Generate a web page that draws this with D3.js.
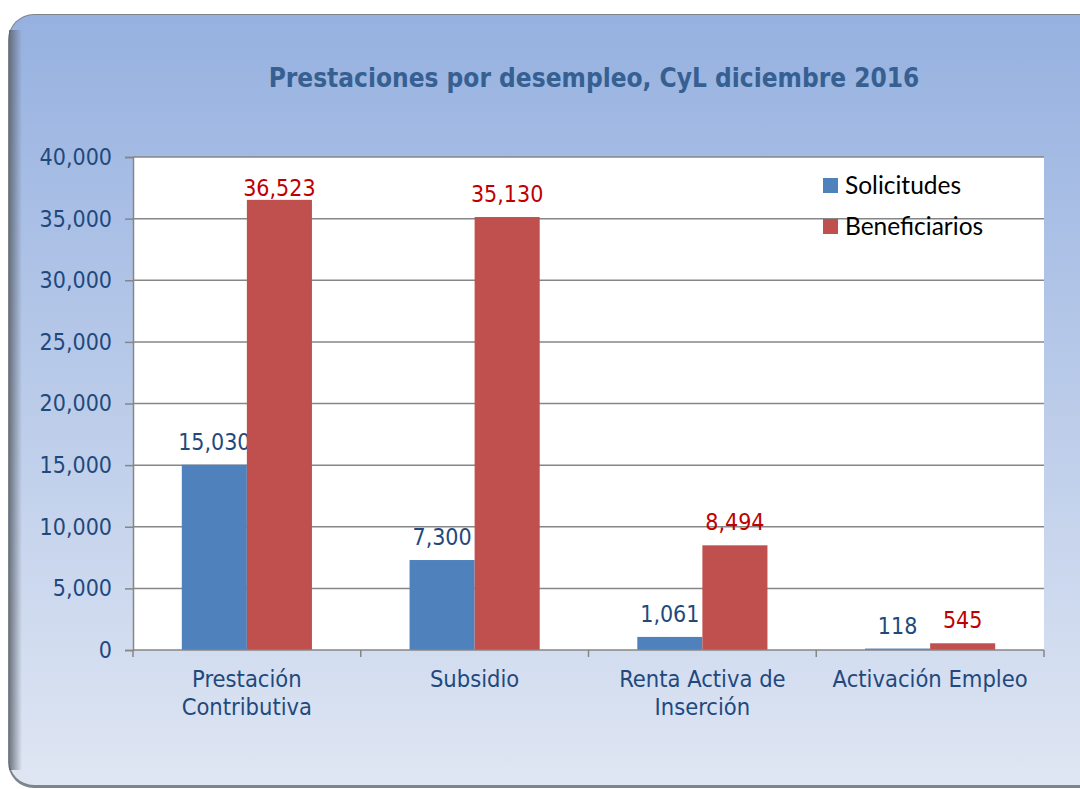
<!DOCTYPE html>
<html>
<head>
<meta charset="utf-8">
<script src="https://cdn.jsdelivr.net/npm/d3@7"></script>
<style>
  body { margin: 0; background: #fff; }
  svg { display: block; }
</style>
</head>
<body>
<svg id="svg" width="1080" height="789"></svg>
<script>
const categories = [['Prestación', 'Contributiva'], ['Subsidio'], ['Renta Activa de', 'Inserción'], ['Activación Empleo']];
const solicitudes = [15030, 7300, 1061, 118];
const beneficiarios = [36523, 35130, 8494, 545];
const seriesNames = ['Solicitudes', 'Beneficiarios'];
const yTicks = [0, 5000, 10000, 15000, 20000, 25000, 30000, 35000, 40000];

const barColors = ['#4f81bd', '#c0504d'];
const labelColors = ['#1f497d', '#c00000'];
const font = '"DejaVu Sans Condensed", "DejaVu Sans", sans-serif';

const svg = d3.select('#svg');
const defs = svg.append('defs');

const bg = defs.append('linearGradient').attr('id', 'bg').attr('x1', 0).attr('y1', 0).attr('x2', 0).attr('y2', 1);
bg.append('stop').attr('offset', '0%').attr('stop-color', '#96b1e0');
bg.append('stop').attr('offset', '100%').attr('stop-color', '#dfe6f3');

const shade = defs.append('linearGradient').attr('id', 'shade').attr('x1', 0).attr('y1', 0).attr('x2', 1).attr('y2', 0);
shade.append('stop').attr('offset', '0%').attr('stop-color', '#5a616b');
shade.append('stop').attr('offset', '100%').attr('stop-color', '#5a616b').attr('stop-opacity', 0);

// frame
svg.append('rect').attr('x', 8).attr('y', 14).attr('width', 1100).attr('height', 774)
  .attr('rx', 26).attr('fill', '#7d848e');
svg.append('rect').attr('x', 9).attr('y', 15).attr('width', 1100).attr('height', 770)
  .attr('rx', 25).attr('fill', 'url(#bg)');
svg.append('rect').attr('x', 9).attr('y', 30).attr('width', 13).attr('height', 740)
  .attr('fill', 'url(#shade)').attr('opacity', 0.85);

svg.append('text').attr('x', 594).attr('y', 87).attr('text-anchor', 'middle')
  .attr('font-family', font).attr('font-weight', 'bold').attr('font-size', 26)
  .attr('fill', '#376092').text('Prestaciones por desempleo, CyL diciembre 2016');

const margin = { left: 133, top: 157, right: 1044, bottom: 650 };

const x = d3.scaleBand().domain(d3.range(categories.length)).range([margin.left, margin.right]);
const y = d3.scaleLinear().domain([0, 40000]).range([margin.bottom, margin.top]);
const xs = d3.scaleBand().domain([0, 1]).range([0, x.bandwidth()]).paddingOuter(0.75).paddingInner(0);

svg.append('rect').attr('x', margin.left).attr('y', margin.top)
  .attr('width', margin.right - margin.left).attr('height', margin.bottom - margin.top).attr('fill', '#fff');

// gridlines
svg.append('g').selectAll('line').data(yTicks.slice(1)).join('line')
  .attr('x1', margin.left).attr('x2', margin.right)
  .attr('y1', (d) => y(d)).attr('y2', (d) => y(d))
  .attr('stroke', '#868686').attr('stroke-width', 1.5);

// bars
const series = [solicitudes, beneficiarios];
series.forEach((vals, s) => {
  svg.append('g').selectAll('rect').data(vals).join('rect')
    .attr('x', (d, i) => x(i) + xs(s)).attr('width', xs.bandwidth())
    .attr('y', (d) => y(d)).attr('height', (d) => y(0) - y(d))
    .attr('fill', barColors[s]);
  svg.append('g').selectAll('text').data(vals).join('text')
    .attr('x', (d, i) => x(i) + xs(s) + xs.bandwidth() / 2)
    .attr('y', (d) => Math.max(y(d) - 15, margin.top + 39)).attr('text-anchor', 'middle')
    .attr('font-family', font).attr('font-size', 23).attr('fill', labelColors[s])
    .text((d) => d3.format(',')(d));
});

// y axis
const yAxis = svg.append('g').attr('transform', `translate(${margin.left},0)`)
  .call(d3.axisLeft(y).tickValues(yTicks).tickFormat(d3.format(',')).tickSize(8).tickPadding(13));
yAxis.select('.domain').attr('stroke', '#868686').attr('stroke-width', 1.5);
yAxis.selectAll('.tick line').attr('stroke', '#868686').attr('stroke-width', 1.5);
yAxis.selectAll('.tick text').attr('font-family', font).attr('font-size', 23).attr('fill', '#1f497d');

// x axis
svg.append('line').attr('x1', margin.left).attr('x2', margin.right)
  .attr('y1', y(0)).attr('y2', y(0)).attr('stroke', '#868686').attr('stroke-width', 1.5);
svg.append('g').selectAll('line').data(d3.range(categories.length + 1)).join('line')
  .attr('x1', (d) => margin.left + d * x.bandwidth()).attr('x2', (d) => margin.left + d * x.bandwidth())
  .attr('y1', y(0)).attr('y2', y(0) + 7).attr('stroke', '#868686').attr('stroke-width', 1.5);

svg.append('g').selectAll('text').data(categories).join('text')
  .attr('x', (d, i) => x(i) + x.bandwidth() / 2).attr('y', 687)
  .attr('text-anchor', 'middle').attr('font-family', font).attr('font-size', 23.5).attr('fill', '#1f497d')
  .selectAll('tspan').data((d) => d).join('tspan')
  .attr('x', function () { return d3.select(this.parentNode).attr('x'); })
  .attr('dy', (d, i) => (i ? 28 : 0)).text((d) => d);

// legend
const legend = svg.append('g').selectAll('g').data(seriesNames).join('g')
  .attr('transform', (d, i) => `translate(823,${178 + i * 41})`);
legend.append('rect').attr('width', 15).attr('height', 15).attr('fill', (d, i) => barColors[i]);
legend.append('text').attr('x', 22).attr('y', 16)
  .attr('font-family', 'Lato, "Open Sans", sans-serif').attr('font-size', 24.5).attr('fill', '#000')
  .text((d) => d);
</script>
</body>
</html>
